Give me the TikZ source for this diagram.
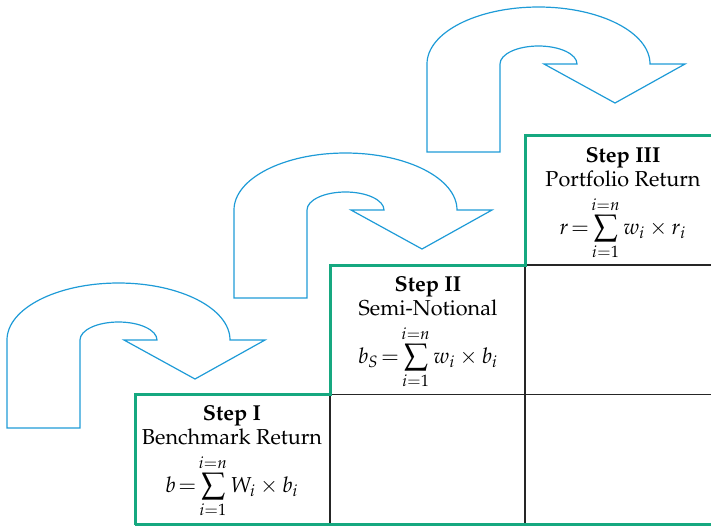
\documentclass[tikz,border=0pt]{standalone}
\usepackage[T1]{fontenc}
\usepackage{mathpazo}
\usepackage{tikz}
\thickmuskip=2mu plus 2mu
\definecolor{stepgreen}{RGB}{22,168,128}
\definecolor{turnblue}{RGB}{30,155,215}
\tikzset{
	turnline/.style={line width=0.6pt, color=turnblue},
	stairline/.style={line width=1.5pt, color=stepgreen},
	gridline/.style={line width=0.8pt, color=black!85},
	steptext/.style={align=center, inner sep=0pt, font=\fontsize{10.8}{12}\selectfont}
}
\def\uturn(#1,#2){\draw[turnline, shift={(#1,-#2)}] (0,0) -- (0,88) arc[start angle=180, end angle=0, x radius=111.5, y radius=57] -- (258,88) -- (188,49) -- (117,88) -- (150,88) arc[start angle=0, end angle=180, x radius=38.5, y radius=18] -- (73,0) -- cycle;}

\begin{document}
\begin{tikzpicture}[x=0.5pt, y=0.5pt]
			%%%%% START %%%%%
			\useasboundingbox (0,0) rectangle (711,-526);
			
			\uturn(7,428)
			\uturn(234,298)
			\uturn(427,152)
			
			\draw[gridline] (330,-394) -- (330,-524);
			\draw[gridline] (525,-265) -- (525,-524);
			\draw[gridline] (330,-394.5) -- (711,-394.5);
			\draw[gridline] (525,-265) -- (711,-265);
			
			\draw[stairline] (135,-524.5) -- (135,-394) -- (330,-394) -- (330,-265) -- (525,-265) -- (525,-135.5) -- (711,-135.5);
			\draw[stairline] (135,-524.5) -- (711,-524.5);
			
			\node[steptext, anchor=north] (stepI) at (232,-405) {\textbf{Step I}\\ Benchmark Return\\[4pt] $\displaystyle b=\sum\limits_{i=1}^{i=n} W_i\times b_i$};
			\node[steptext, anchor=north] (stepII) at (428,-276) {\textbf{Step II}\\ Semi-Notional\\[4pt] $\displaystyle b_S=\sum\limits_{i=1}^{i=n} w_i\times b_i$};
			\node[steptext, anchor=north] (stepIII) at (623,-147) {\textbf{Step III}\\ Portfolio Return\\[4pt] $\displaystyle r=\sum\limits_{i=1}^{i=n} w_i\times r_i$};
			
			%%%%% END %%%%%
\end{tikzpicture}
\end{document}
